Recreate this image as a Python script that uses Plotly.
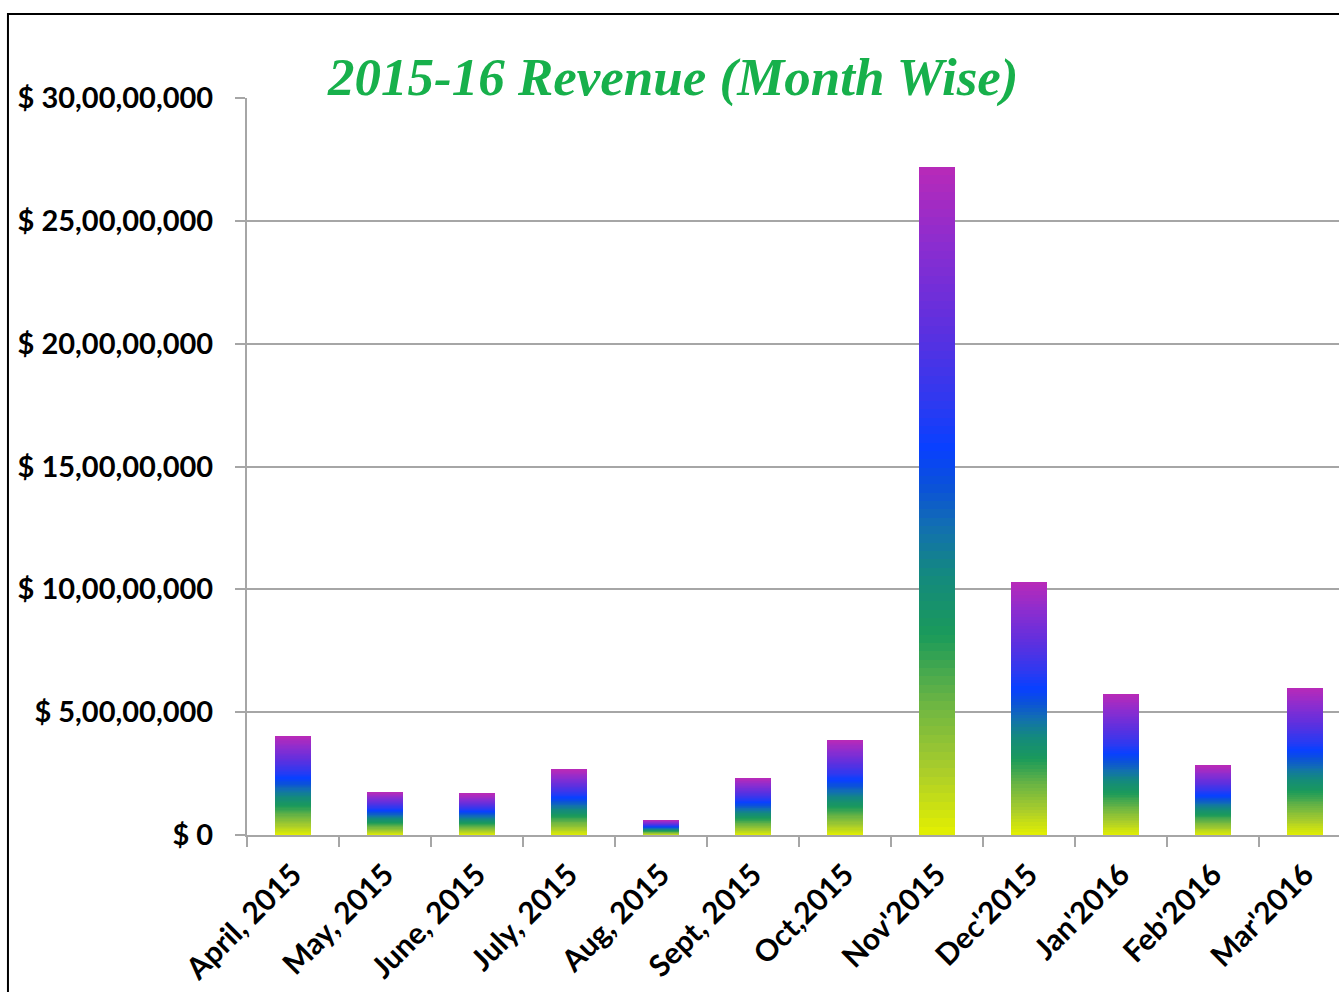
import plotly.graph_objects as go
from plotly.colors import sample_colorscale

months = ["April, 2015", "May, 2015", "June, 2015", "July, 2015", "Aug, 2015",
          "Sept, 2015", "Oct,2015", "Nov'2015", "Dec'2015", "Jan'2016",
          "Feb'2016", "Mar'2016"]
revenue = [40300000, 17500000, 16700000, 26500000, 6100000, 23200000,
           38700000, 271900000, 103000000, 57400000, 28100000, 59800000]
ytick_vals = [0, 50000000, 100000000, 150000000, 200000000, 250000000, 300000000]
ytick_text = ["$ 0", "$ 5,00,00,000", "$ 10,00,00,000", "$ 15,00,00,000",
              "$ 20,00,00,000", "$ 25,00,00,000", "$ 30,00,00,000"]
title_text = "2015-16 Revenue (Month Wise)"

gradient = [
    [0.0, "#e4f000"], [0.1, "#a8cc2c"], [0.2, "#6ab444"], [0.3, "#1a9a5a"],
    [0.39, "#13897f"], [0.46, "#1270b0"], [0.52, "#0b52d8"], [0.58, "#0840ff"],
    [0.65, "#2f39f0"], [0.75, "#5a30e0"], [0.88, "#8a2dd0"], [1.0, "#b82ab8"],
]
N = 80
seg_colors = sample_colorscale(gradient, [(k + 0.5) / N for k in range(N)])

fig = go.Figure()
for k in range(N):
    fig.add_trace(go.Bar(
        x=months, y=[v / N for v in revenue],
        marker=dict(color=seg_colors[k], line=dict(width=0)),
        width=0.4, showlegend=False, hoverinfo="skip",
    ))

grid = "#a6a6a6"
ytick_font = dict(family="Lato", size=29, color="black", weight="bold")
xtick_font = dict(family="Lato", size=30, color="black", weight="bold")
fig.update_layout(
    width=1339, height=992,
    margin=dict(l=247, r=0, t=98, b=157),
    barmode="stack",
    plot_bgcolor="white", paper_bgcolor="white",
    xaxis=dict(
        type="category", range=[-0.5, 11.37],
        tickson="boundaries", ticks="outside", ticklen=10, tickwidth=2,
        tickcolor=grid, showline=True, linecolor=grid, linewidth=2,
        tickangle=-45, showgrid=False, tickfont=xtick_font,
        ticklabelstandoff=8,
    ),
    yaxis=dict(
        range=[0, 300000000], tickvals=ytick_vals, ticktext=ytick_text,
        ticks="outside", ticklen=10, tickwidth=2, tickcolor=grid,
        showline=True, linecolor=grid, linewidth=2,
        showgrid=True, gridcolor=grid, gridwidth=2, zeroline=False,
        tickfont=ytick_font, ticklabelstandoff=16,
    ),
    annotations=[dict(
        text=title_text, xref="paper", yref="paper",
        x=0.39, y=1.0, xanchor="center", yanchor="bottom", showarrow=False,
        yshift=-11,
        font=dict(family="Liberation Serif", size=53, color="#17b04b",
                  weight="bold", style="italic"),
    )],
    shapes=[dict(
        type="rect", xref="paper", yref="paper",
        x0=-0.2189, x1=1.05, y0=-0.3, y1=1.114,
        line=dict(color="black", width=2), layer="above",
    )],
)

fig.write_html("out.html", config={"displayModeBar": False},
               post_script="document.body.style.margin='0';document.body.style.overflow='hidden';")
